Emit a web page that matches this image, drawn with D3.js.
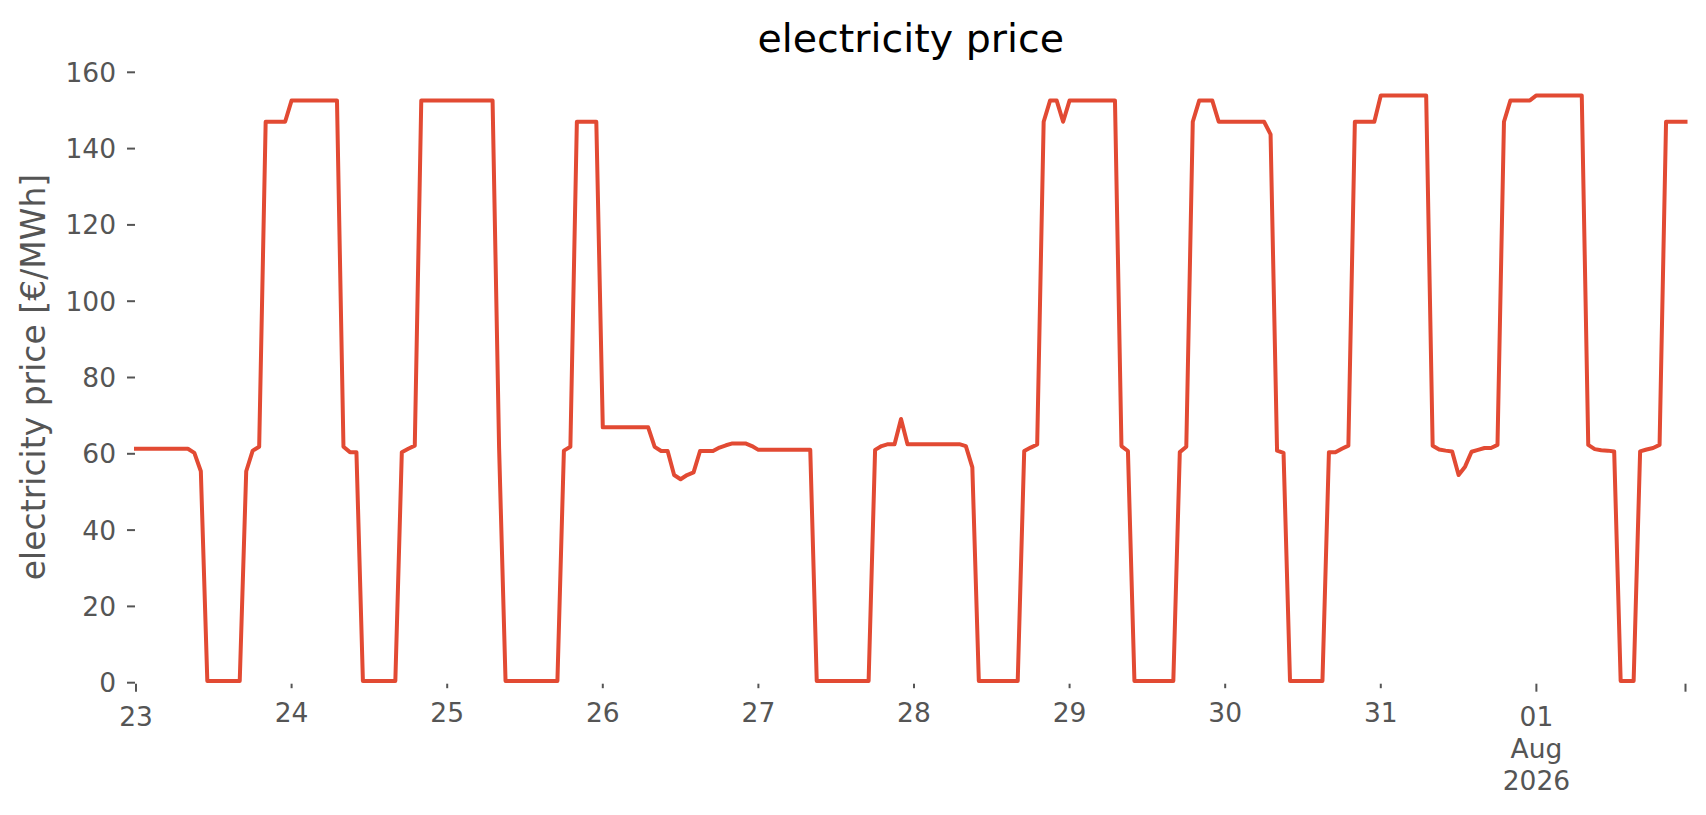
<!DOCTYPE html>
<html>
<head>
<meta charset="utf-8">
<script src="https://cdn.jsdelivr.net/npm/d3@7/dist/d3.min.js"></script>
<style>
  html, body { margin: 0; padding: 0; background: #ffffff; }
  svg { display: block; font-family: "DejaVu Sans", sans-serif; }
</style>
</head>
<body>
<svg id="chart" width="1706" height="815"></svg>
<script>
// ---- data (hourly prices, 2026-07-23 00:00 .. 2026-08-01 23:00) ----
const startTime = "2026-07-23T00:00:00Z";
const prices = [
  // Jul 23
  61.2,61.2,61.2,61.2,61.2,61.2,61.2,61.2,61.2,60.1,55.3,0.3,0.3,0.3,0.3,0.3,0.3,55.3,60.7,61.7,146.9,146.9,146.9,146.9,
  // Jul 24
  152.5,152.5,152.5,152.5,152.5,152.5,152.5,152.5,61.7,60.3,60.3,0.3,0.3,0.3,0.3,0.3,0.3,60.3,61.2,62.0,152.5,152.5,152.5,152.5,
  // Jul 25
  152.5,152.5,152.5,152.5,152.5,152.5,152.5,152.5,61.7,0.3,0.3,0.3,0.3,0.3,0.3,0.3,0.3,0.3,60.7,61.7,146.9,146.9,146.9,146.9,
  // Jul 26
  66.8,66.8,66.8,66.8,66.8,66.8,66.8,66.8,61.7,60.6,60.6,54.3,53.2,54.3,55.0,60.6,60.6,60.6,61.5,62.1,62.6,62.6,62.6,61.9,
  // Jul 27
  60.9,60.9,60.9,60.9,60.9,60.9,60.9,60.9,60.9,0.3,0.3,0.3,0.3,0.3,0.3,0.3,0.3,0.3,60.9,61.9,62.4,62.4,69.0,62.4,
  // Jul 28
  62.4,62.4,62.4,62.4,62.4,62.4,62.4,62.4,61.9,56.3,0.3,0.3,0.3,0.3,0.3,0.3,0.3,60.6,61.5,62.3,146.9,152.5,152.5,146.9,
  // Jul 29
  152.5,152.5,152.5,152.5,152.5,152.5,152.5,152.5,61.9,60.6,0.3,0.3,0.3,0.3,0.3,0.3,0.3,60.3,61.7,146.9,152.5,152.5,152.5,146.9,
  // Jul 30
  146.9,146.9,146.9,146.9,146.9,146.9,146.9,143.6,60.7,60.1,0.3,0.3,0.3,0.3,0.3,0.3,60.3,60.3,61.2,62.0,146.9,146.9,146.9,146.9,
  // Jul 31
  153.8,153.8,153.8,153.8,153.8,153.8,153.8,153.8,62.0,61.0,60.7,60.5,54.3,56.5,60.4,60.9,61.4,61.4,62.2,146.9,152.5,152.5,152.5,152.5,
  // Aug 01
  153.8,153.8,153.8,153.8,153.8,153.8,153.8,153.8,62.2,61.1,60.8,60.7,60.5,0.3,0.3,0.3,60.5,61.0,61.4,62.2,146.9,146.9,146.9,146.9
];
const yTicks = [0, 20, 40, 60, 80, 100, 120, 140, 160];
const monthLabelLines = ["Aug", "2026"];
const titleText = "electricity price";
const yLabelText = "electricity price [€/MWh]";

// ---- layout ----
const svg = d3.select("#chart");
const plotLeft = 136, plotRight = 1685.5, plotTop = 71.8, plotBottom = 682.2;
const textColor = "#555555";
const lineColor = "#E24A33";

const t0 = new Date(startTime);
const series = prices.map((v, i) => ({ t: d3.utcHour.offset(t0, i), v }));

const x = d3.scaleUtc()
  .domain([series[0].t, series[series.length - 1].t])
  .range([plotLeft, plotRight]);
const y = d3.scaleLinear().domain([0, 160]).range([plotBottom, plotTop]);

// title
svg.append("text")
  .attr("x", (plotLeft + plotRight) / 2).attr("y", 52)
  .attr("text-anchor", "middle")
  .attr("font-size", "39.5px").attr("fill", "#000")
  .text(titleText);

// y label
svg.append("text")
  .attr("transform", `translate(45,${(plotTop + plotBottom) / 2}) rotate(-90)`)
  .attr("text-anchor", "middle")
  .attr("font-size", "33px").attr("fill", textColor)
  .text(yLabelText);

// y axis
const yAxis = svg.append("g")
  .attr("transform", `translate(${plotLeft},0)`)
  .call(d3.axisLeft(y).tickValues(yTicks).tickSize(9).tickPadding(11).tickFormat(d3.format("d")));
yAxis.select(".domain").remove();
yAxis.selectAll(".tick line").attr("stroke", textColor).attr("stroke-width", 2).attr("x1", -1);
yAxis.selectAll(".tick text")
  .attr("font-family", "DejaVu Sans").attr("font-size", "26.5px")
  .attr("fill", textColor).attr("dy", "0.36em");

// x axis ticks
const dayTicks = x.ticks(d3.utcDay);
const endTick = x.domain()[1];
const fmtDay = d3.utcFormat("%d");
const tickData = dayTicks.map((d, i) => ({
  d,
  major: i === 0 || d.getUTCDate() === 1,
  label: fmtDay(d),
  extra: d.getUTCDate() === 1 ? monthLabelLines : []
}));
tickData.push({ d: endTick, major: true, label: "", extra: [] });

const xg = svg.append("g");
xg.selectAll("line.xt").data(tickData).join("line")
  .attr("class", "xt")
  .attr("x1", d => x(d.d)).attr("x2", d => x(d.d))
  .attr("y1", plotBottom + 1.5).attr("y2", d => plotBottom + 1.5 + (d.major ? 8 : 4.5))
  .attr("stroke", textColor).attr("stroke-width", 2);

const labels = xg.selectAll("text.xl").data(tickData.filter(d => d.label)).join("text")
  .attr("class", "xl")
  .attr("text-anchor", "middle")
  .attr("font-size", "26.5px").attr("fill", textColor)
  .attr("x", d => x(d.d))
  .attr("y", d => d.major ? 725.5 : 722);
labels.each(function(d) {
  const t = d3.select(this);
  t.append("tspan").attr("x", x(d.d)).text(d.label);
  d.extra.forEach(s => t.append("tspan").attr("x", x(d.d)).attr("dy", "1.22em").text(s));
});

// data line
const line = d3.line().x(d => x(d.t)).y(d => y(d.v));
svg.append("path")
  .datum(series)
  .attr("d", line)
  .attr("fill", "none")
  .attr("stroke", lineColor)
  .attr("stroke-width", 4)
  .attr("stroke-linejoin", "round")
  .attr("stroke-linecap", "square");
</script>
</body>
</html>
